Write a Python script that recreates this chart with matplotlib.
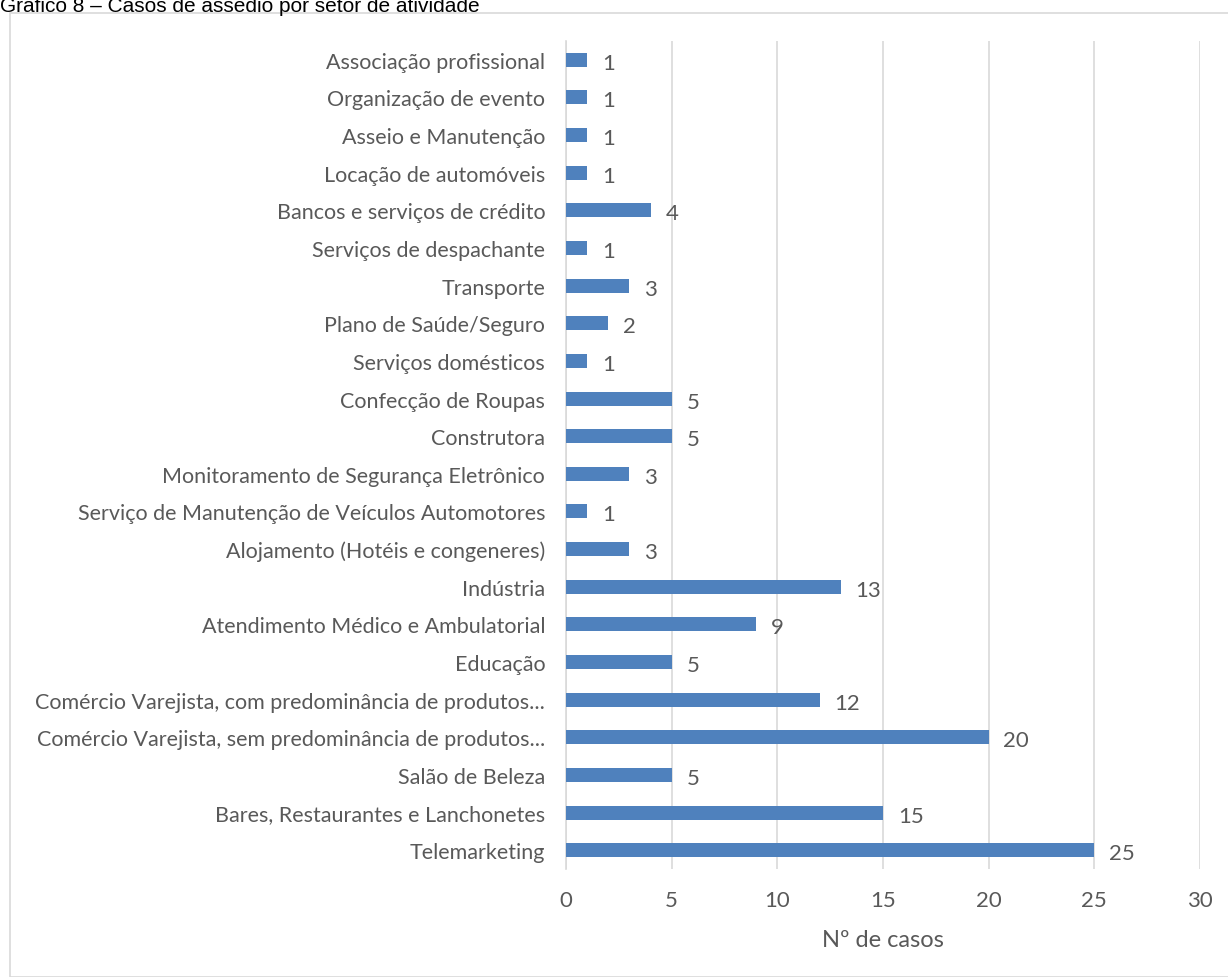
import matplotlib
matplotlib.use("Agg")
import matplotlib.pyplot as plt
from matplotlib.patches import Rectangle

plt.rcParams['font.family'] = ['Lato', 'DejaVu Sans']

# categories from bottom to top
setores = [
    "Telemarketing",
    "Bares, Restaurantes e Lanchonetes",
    "Salão de Beleza",
    "Comércio Varejista, sem predominância de produtos...",
    "Comércio Varejista, com predominância de produtos...",
    "Educação",
    "Atendimento Médico e Ambulatorial",
    "Indústria",
    "Alojamento (Hotéis e congeneres)",
    "Serviço de Manutenção de Veículos Automotores",
    "Monitoramento de Segurança Eletrônico",
    "Construtora",
    "Confecção de Roupas",
    "Serviços domésticos",
    "Plano de Saúde/Seguro",
    "Transporte",
    "Serviços de despachante",
    "Bancos e serviços de crédito",
    "Locação de automóveis",
    "Asseio e Manutenção",
    "Organização de evento",
    "Associação profissional",
]
casos = [25, 15, 5, 20, 12, 5, 9, 13, 3, 1, 3, 5, 5, 1, 2, 3, 1, 4, 1, 1, 1, 1]
xticks = [0, 5, 10, 15, 20, 25, 30]

txt = "#595959"
fig = plt.figure(figsize=(12.28, 9.78), dpi=100)

# outer chart frame
fig.patches.append(Rectangle((10 / 1228, 0), 1.2, 1 - 14 / 978, transform=fig.transFigure,
                             fill=False, edgecolor="#D9D9D9", linewidth=1.2))
fig.text(0.0, 1 - 12 / 978, "Gráfico 8 – Casos de assédio por setor de atividade",
         fontsize=15, family=['Liberation Sans', 'DejaVu Sans'], va='baseline', ha='left')

ax = fig.add_axes([566 / 1228, 1 - 870 / 978, (1200 - 566) / 1228, (870 - 42) / 978])
pos = list(range(len(setores)))
ax.barh(pos, casos, height=0.37, color="#4F81BD", zorder=3)
for p, v in zip(pos, casos):
    ax.text(v + 0.7, p - 0.08, str(v), va='center', ha='left', fontsize=16, color=txt)

ax.set_xlim(0, 30)
ax.set_ylim(-0.5, len(setores) - 0.5)
ax.set_xticks(xticks)
ax.set_yticks(pos)
ax.set_yticklabels(setores)
ax.tick_params(axis='both', length=0, labelsize=16, labelcolor=txt)
ax.tick_params(axis='y', labelsize=15.5, pad=15)
ax.tick_params(axis='x', pad=15)
ax.grid(axis='x', color="#D9D9D9", linewidth=1.2, zorder=0)
for s in ['top', 'right', 'bottom']:
    ax.spines[s].set_visible(False)
ax.spines['left'].set_color("#D9D9D9")
ax.spines['left'].set_linewidth(1.2)
ax.set_xlabel("Nº de casos", fontsize=17, color=txt, labelpad=14)

fig.savefig("out.png", dpi=100)
